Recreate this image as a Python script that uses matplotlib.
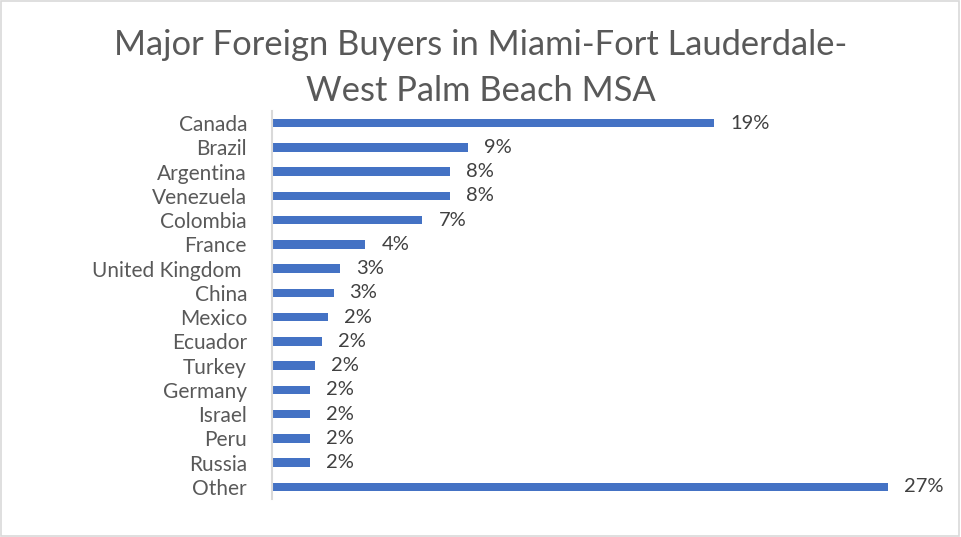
import matplotlib.pyplot as plt
from matplotlib.patches import Rectangle

countries = ["Canada", "Brazil", "Argentina", "Venezuela", "Colombia", "France",
             "United Kingdom ", "China", "Mexico", "Ecuador", "Turkey", "Germany",
             "Israel", "Peru", "Russia", "Other"]
# shares in percent
shares = [19.4, 8.6, 7.8, 7.8, 6.6, 4.1, 3.0, 2.7, 2.45, 2.2, 1.9, 1.65,
          1.65, 1.65, 1.65, 27.0]

bar_color = "#4472C4"
text_gray = "#595959"

plt.rcParams["font.family"] = ["Lato", "DejaVu Sans"]

fig = plt.figure(figsize=(9.61, 5.37), dpi=100)
ax = fig.add_axes([272 / 961, 1 - 499 / 537, 678 / 961, 388 / 537])

y = list(range(len(countries)))
ax.barh(y, shares, height=0.36, color=bar_color)
ax.set_ylim(len(countries) - 0.5, -0.5)
ax.set_xlim(0, 678 / 22.8)

for yi, v in zip(y, shares):
    ax.text(v + 0.7, yi, f"{v:.0f}%", va="center", ha="left",
            fontsize=14.5, color="#404040")

ax.set_yticks(y)
ax.set_yticklabels(countries, fontsize=15, color=text_gray)
ax.tick_params(axis="y", length=0, pad=18)
ax.set_xticks([])
for s in ["top", "right", "bottom"]:
    ax.spines[s].set_visible(False)
ax.spines["left"].set_color("#D9D9D9")
ax.spines["left"].set_linewidth(1.5)

fig.text(0.5, 1 - 45 / 537, "Major Foreign Buyers in Miami-Fort Lauderdale-",
         ha="center", va="center", fontsize=24.8, color=text_gray)
fig.text(0.5, 1 - 91 / 537, "West Palm Beach MSA",
         ha="center", va="center", fontsize=24.8, color=text_gray)

# chart border
fig.patches.append(Rectangle((0.001, 0.002), 0.997, 0.996, transform=fig.transFigure,
                             fill=False, edgecolor="#D9D9D9", linewidth=1.2))

fig.savefig("out.png", dpi=100)
